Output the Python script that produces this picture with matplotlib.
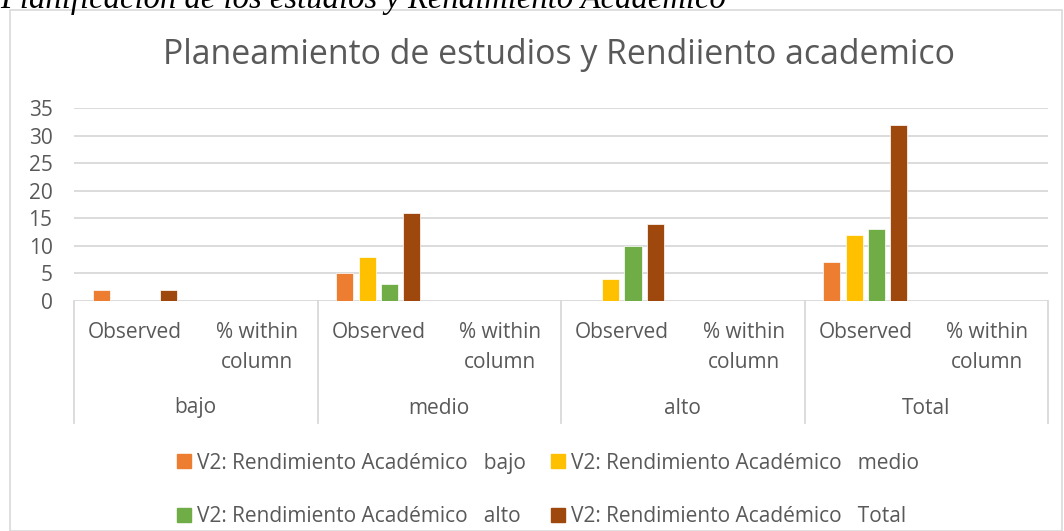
import matplotlib.pyplot as plt
from matplotlib.patches import Rectangle, Patch
from matplotlib.lines import Line2D
import matplotlib.transforms as mtransforms

W, H = 1064, 531

groups = ["bajo", "medio", "alto", "Total"]
subcats = ["Observed", "% within\ncolumn"]
series = ["V2: Rendimiento Académico   bajo", "V2: Rendimiento Académico   medio",
          "V2: Rendimiento Académico   alto", "V2: Rendimiento Académico   Total"]
# one value per (group, subcat) category, 8 categories
v_bajo = [2, 0, 5, 0, 0, 0, 7, 0]
v_medio = [0, 0, 8, 0, 4, 0, 12, 0]
v_alto = [0, 0, 3, 0, 10, 0, 13, 0]
v_total = [2, 0, 16, 0, 14, 0, 32, 0]
colors = ["#ED7D31", "#FFC000", "#70AD47", "#9E480E"]

TXT = "#595959"
GRID = "#D9D9D9"
FONT = "Open Sans"
FS = 15


def fy(py):
    # pixel row from the top -> figure fraction
    return 1 - py / H


fig = plt.figure(figsize=(W / 100, H / 100), dpi=100)

# outer chart border
fig.patches.append(Rectangle((10 / W, 0), 1052 / W, 1 - 10 / H, transform=fig.transFigure,
                             fill=False, edgecolor=GRID, lw=1.2))

# heading of the document, cut at the top
fig.text(0, fy(8), "Planificación de los estudios y Rendimiento Académico",
         family="Liberation Serif", style="italic", fontsize=23.5, color="black",
         va="baseline", ha="left")

left, right, top, bottom = 74, 1048, 108, 301
ax = fig.add_axes([left / W, fy(bottom), (right - left) / W, (bottom - top) / H])

step = 0.183
bw = 0.14
xs = list(range(8))
for k, vals in enumerate([v_bajo, v_medio, v_alto, v_total]):
    ax.bar([x + (k - 1.5) * step for x in xs], vals, width=bw, color=colors[k],
           edgecolor="white", linewidth=0.5, zorder=3)

ax.set_xlim(-0.5, 7.5)
ax.set_ylim(0, 35)
ax.set_yticks(range(0, 36, 5))
ax.yaxis.grid(True, color=GRID, lw=1.3)
ax.set_axisbelow(True)
for s in ax.spines.values():
    s.set_visible(False)
ax.set_xticks([])
ax.tick_params(axis="y", length=0, pad=15.5, labelsize=FS, labelcolor=TXT)
for lab in ax.get_yticklabels():
    lab.set_family(FONT)

# multi-level category axis
tr = mtransforms.blended_transform_factory(ax.transData, fig.transFigure)
for i in range(8):
    lines = subcats[i % 2].split("\n")
    for j, t in enumerate(lines):
        ax.text(i, fy(332 + 30 * j), t, transform=tr, ha="center", va="center",
                fontsize=FS, color=TXT, family=FONT)
for g, name in enumerate(groups):
    ax.text(2 * g + 0.5, fy(408), name, transform=tr, ha="center", va="center",
            fontsize=FS, color=TXT, family=FONT)
for xb in [-0.5, 1.5, 3.5, 5.5, 7.5]:
    ax.add_line(Line2D([xb, xb], [fy(301), fy(423)], transform=tr, color=GRID,
                       lw=1.3, clip_on=False))

fig.text(559 / W, fy(55), "Planeamiento de estudios y Rendiiento academico", fontsize=24.4,
         color=TXT, family=FONT, ha="center", va="center")

handles = [Patch(color=c) for c in colors]
order = [0, 2, 1, 3]
fig.legend([handles[i] for i in order], [series[i] for i in order], ncol=2,
           loc="upper left", bbox_to_anchor=(160 / W, fy(436)), frameon=False,
           prop={"family": FONT, "size": FS}, labelcolor=TXT,
           handlelength=0.67, handleheight=0.67, handletextpad=0.29,
           columnspacing=1.2, labelspacing=1.55, borderpad=0.3)

fig.savefig("out.png", dpi=100)
